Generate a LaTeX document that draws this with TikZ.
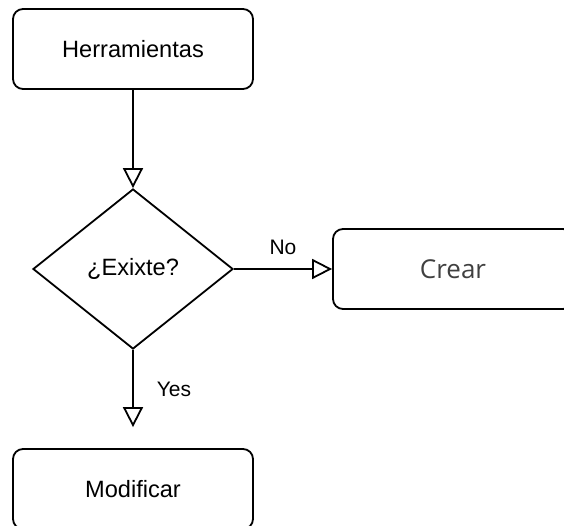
\documentclass[tikz,border=0pt]{standalone}
\usepackage{fontspec}
\setmainfont{Liberation Sans}
\newfontfamily\crearfont{Open Sans}
\usetikzlibrary{shapes.geometric,arrows.meta}
\begin{document}
\begin{tikzpicture}[x=1pt,y=-1pt,
  stepbox/.style={draw, rounded corners=10pt, minimum width=240pt,
    minimum height=80pt, line width=1.8pt, inner sep=0pt,
    font=\fontsize{23.6}{28}\selectfont},
  decision/.style={diamond, draw, line width=1.8pt, minimum width=200pt,
    minimum height=160pt, inner sep=0pt, font=\fontsize{23.6}{28}\selectfont},
  flow/.style={draw, line width=1.8pt,
    -{Triangle[open, length=20pt, width=20pt, fill=white]}},
  lbl/.style={inner sep=0pt, font=\fontsize{21}{24}\selectfont}]
  \useasboundingbox (0,0) rectangle (564,526);

  % nodes
  \node[stepbox] (herr) at (133,49) {Herramientas};
  \node[decision] (dec) at (133,269) {¿Exixte?};
  \node[stepbox, font=\crearfont\fontsize{26}{31}\selectfont, text=black!75]
    (crear) at (453,269) {Crear};
  \node[stepbox] (mod) at (133,489) {Modificar};

  % connectors
  \draw[flow] (herr) -- (dec);
  \draw[flow] (dec) -- node[lbl, above=13pt] {No} (crear);
  \draw[flow, shorten >=21pt] (dec) -- node[lbl, pos=0.4, right=23pt] {Yes} (mod);
\end{tikzpicture}
\end{document}
